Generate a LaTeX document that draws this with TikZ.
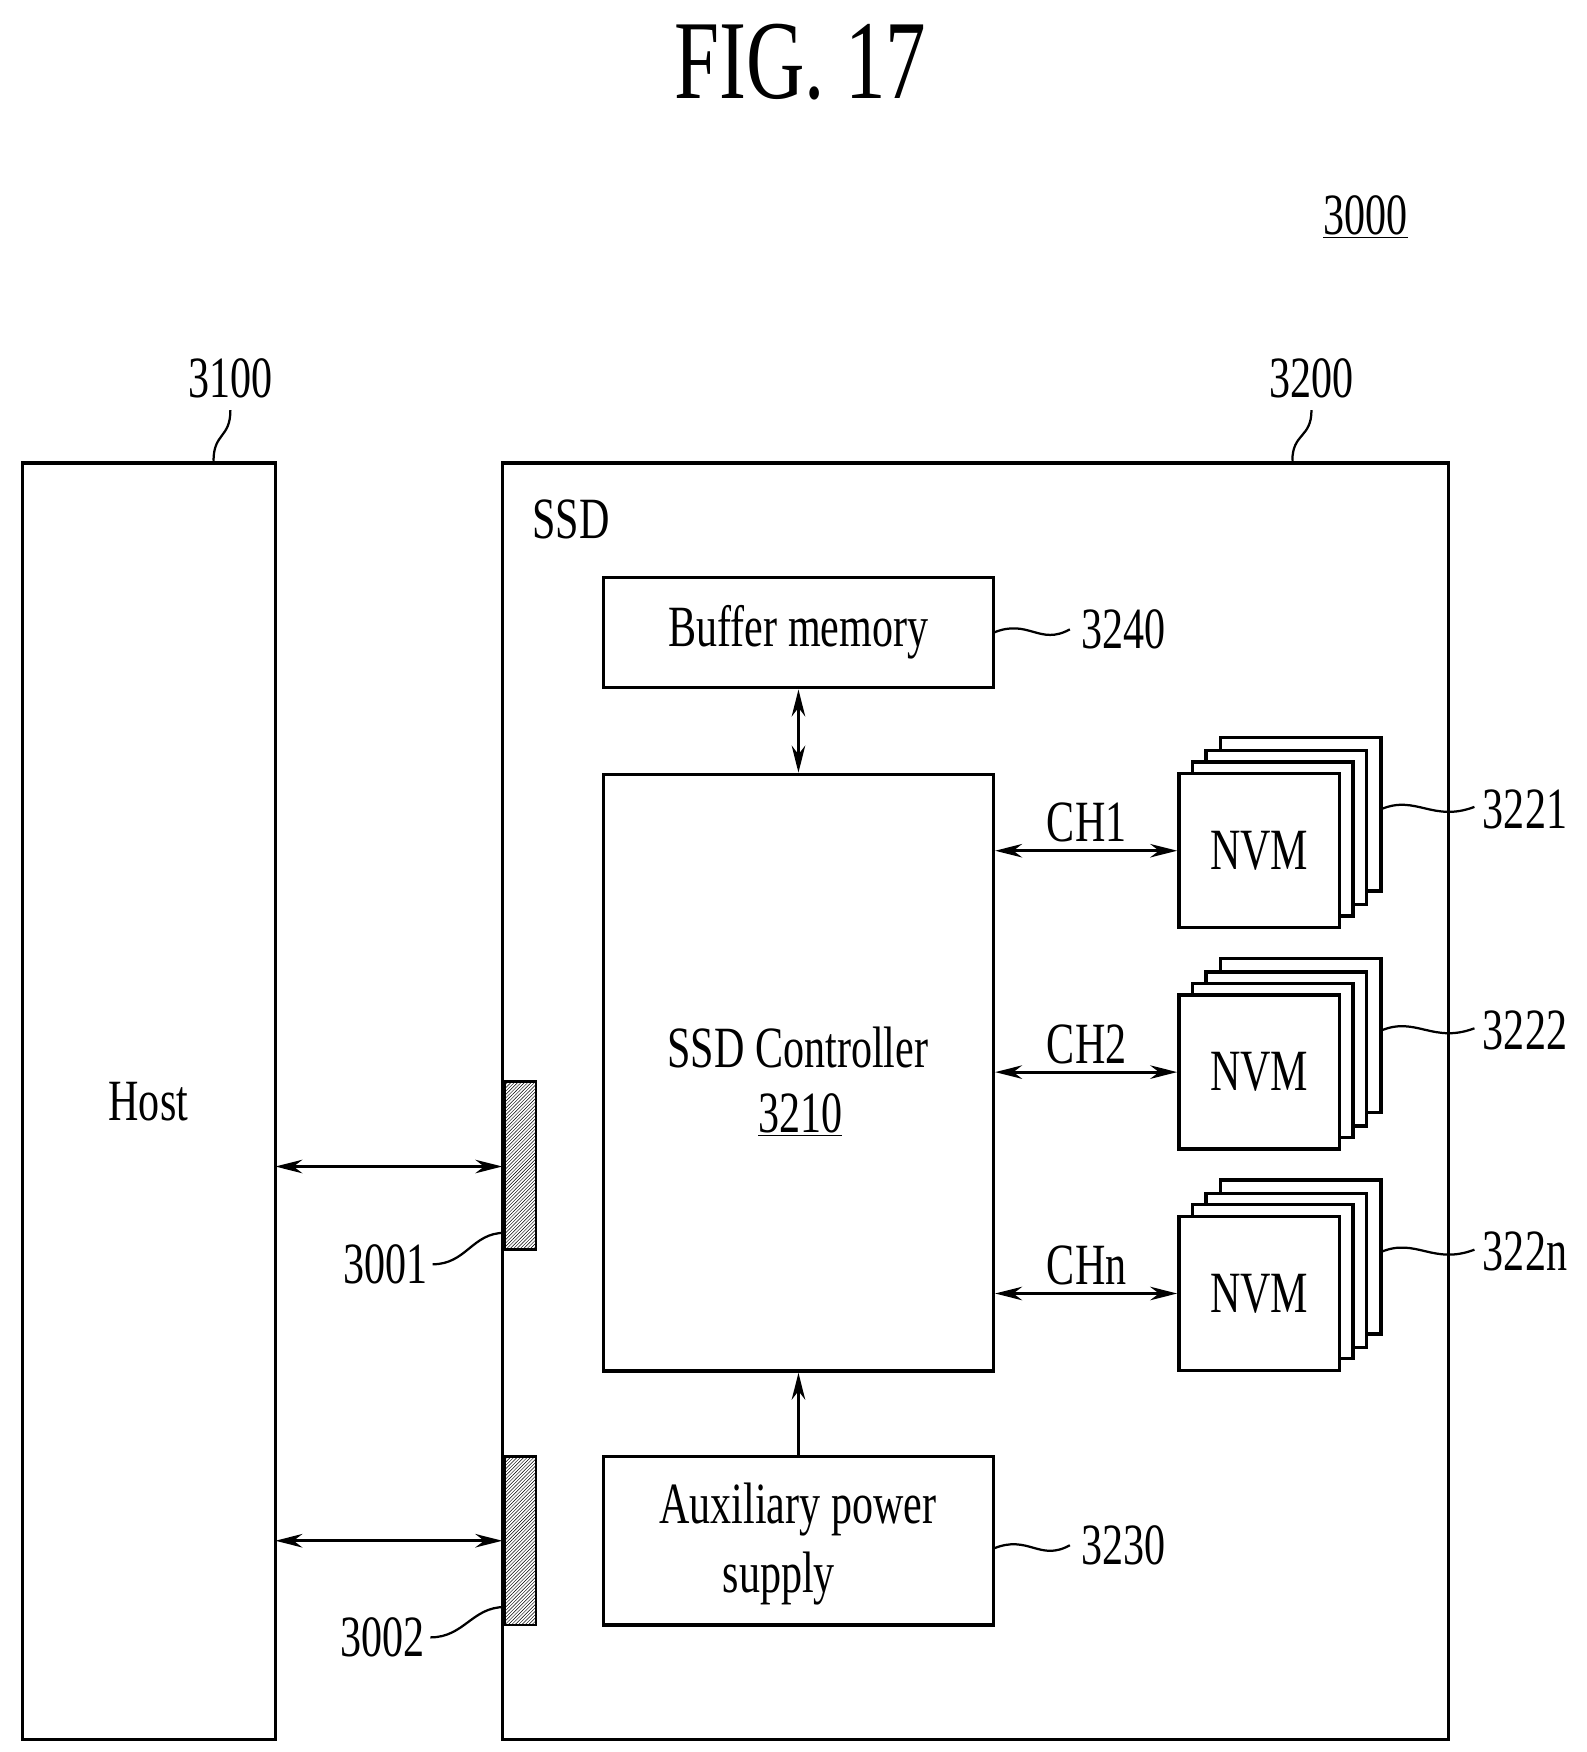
\documentclass[tikz,border=0pt]{standalone}
\usepackage{fontspec}
\setmainfont{Liberation Serif}[FakeStretch=0.72]
\usetikzlibrary{arrows.meta,patterns}
\begin{document}
\begin{tikzpicture}[x=1pt,y=-1pt,line width=3pt,
  box/.style={draw,line width=3pt,fill=white},
  txt/.style={font=\fontsize{52}{58}\selectfont,inner sep=0pt},
  dbl/.style={{Stealth[length=24pt,width=12pt]}-{Stealth[length=24pt,width=12pt]},line width=2.6pt},
  sgl/.style={-{Stealth[length=24pt,width=12pt]},line width=2.6pt},
  lead/.style={line width=2pt}]
\useasboundingbox (0,0) rectangle (1412,1559);
\node[font=\fontsize{100}{110}\selectfont,inner sep=0pt] (fig) at (712,55) {FIG. 17};
\node[txt] (l3000) at (1215,193) {\underline{3000}};
% Host
\draw[box] (20,412) rectangle (245,1548);
\node[txt] (host) at (132,980) {Host};
\coordinate (hostR1) at (245,1038);
\coordinate (hostR2) at (245,1371);
\node[txt] (l3100) at (205,337) {3100};
\coordinate (h1) at (205,365); \coordinate (h2) at (190,410);
\draw[lead] (h1) .. controls (205,390) and (190,385) .. (h2);
% SSD
\draw[box] (447,412) rectangle (1289,1548);
\node[txt] (ssd) at (508,462) {SSD};
\node[txt] (l3200) at (1167,337) {3200};
\coordinate (s1) at (1167,365); \coordinate (s2) at (1150,410);
\draw[lead] (s1) .. controls (1167,390) and (1150,385) .. (s2);
% connectors
\draw[line width=2.5pt,pattern=north east lines] (449,962) rectangle (477,1112);
\draw[line width=2.5pt,pattern=north east lines] (449,1296) rectangle (477,1446);
\coordinate (c1) at (447,1038); \coordinate (c2) at (447,1371);
\draw[dbl] (hostR1) -- (c1);
\draw[dbl] (hostR2) -- (c2);
\node[txt] (l3001) at (343,1125) {3001};
\coordinate (a1) at (385,1125); \coordinate (a2) at (449,1097);
\draw[lead] (a1) .. controls (415,1125) and (420,1097) .. (a2);
\node[txt] (l3002) at (340,1457) {3002};
\coordinate (b1) at (383,1457); \coordinate (b2) at (449,1430);
\draw[lead] (b1) .. controls (413,1457) and (420,1430) .. (b2);
% buffer
\node[box,minimum width=347pt,minimum height=98pt,txt] (buf) at (710.5,563) {Buffer memory};
\node[txt] (l3240) at (1000,560) {3240};
\coordinate (bf1) at (884,563); \coordinate (bf2) at (952,560);
\draw[lead] (bf1) .. controls (915,550) and (925,575) .. (bf2);
% controller
\node[box,minimum width=347pt,minimum height=531pt] (ctrl) at (710.5,954.5) {};
\node[txt] (ct1) at (710,932) {SSD Controller};
\node[txt] (ct2) at (712,992) {\underline{3210}};
\draw[dbl] (buf.south) -- (ctrl.north);
% aux
\node[box,minimum width=347pt,minimum height=150pt] (aux) at (710.5,1371) {};
\node[txt] (ax1) at (710,1343) {Auxiliary power};
\node[txt] (ax2) at (693,1405) {supply};
\draw[sgl] (aux.north) -- (ctrl.south);
\node[txt] (l3230) at (1000,1375) {3230};
\coordinate (ap1) at (884,1378); \coordinate (ap2) at (952,1375);
\draw[lead] (ap1) .. controls (915,1365) and (925,1390) .. (ap2);
% NVMs
\foreach \i/\y/\ch/\lab in {1/757/CH1/3221,2/954/CH2/3222,3/1151/CHn/322n}{
  \draw[box] (1049+37,\y-101) rectangle (1192+37,\y+36);
  \draw[box] (1049+24,\y-89) rectangle (1192+24,\y+48);
  \draw[box] (1049+12,\y-79) rectangle (1192+12,\y+58);
  \node[box,minimum width=143pt,minimum height=137pt,txt] (nvm\i) at (1120.5,\y) {NVM};
  \draw[dbl] (ctrl.east |- nvm\i.west) -- (nvm\i.west);
  \node[txt] (ch\i) at (967,\y-25) {\ch};
  \node[txt] (lab\i) at (1357,\y-37) {\lab};
  \coordinate (n1\i) at (1229,\y-37); \coordinate (n2\i) at (1312,\y-39);
  \draw[lead] (n1\i) .. controls (1260,\y-50) and (1275,\y-25) .. (n2\i);
}
\end{tikzpicture}
\end{document}
